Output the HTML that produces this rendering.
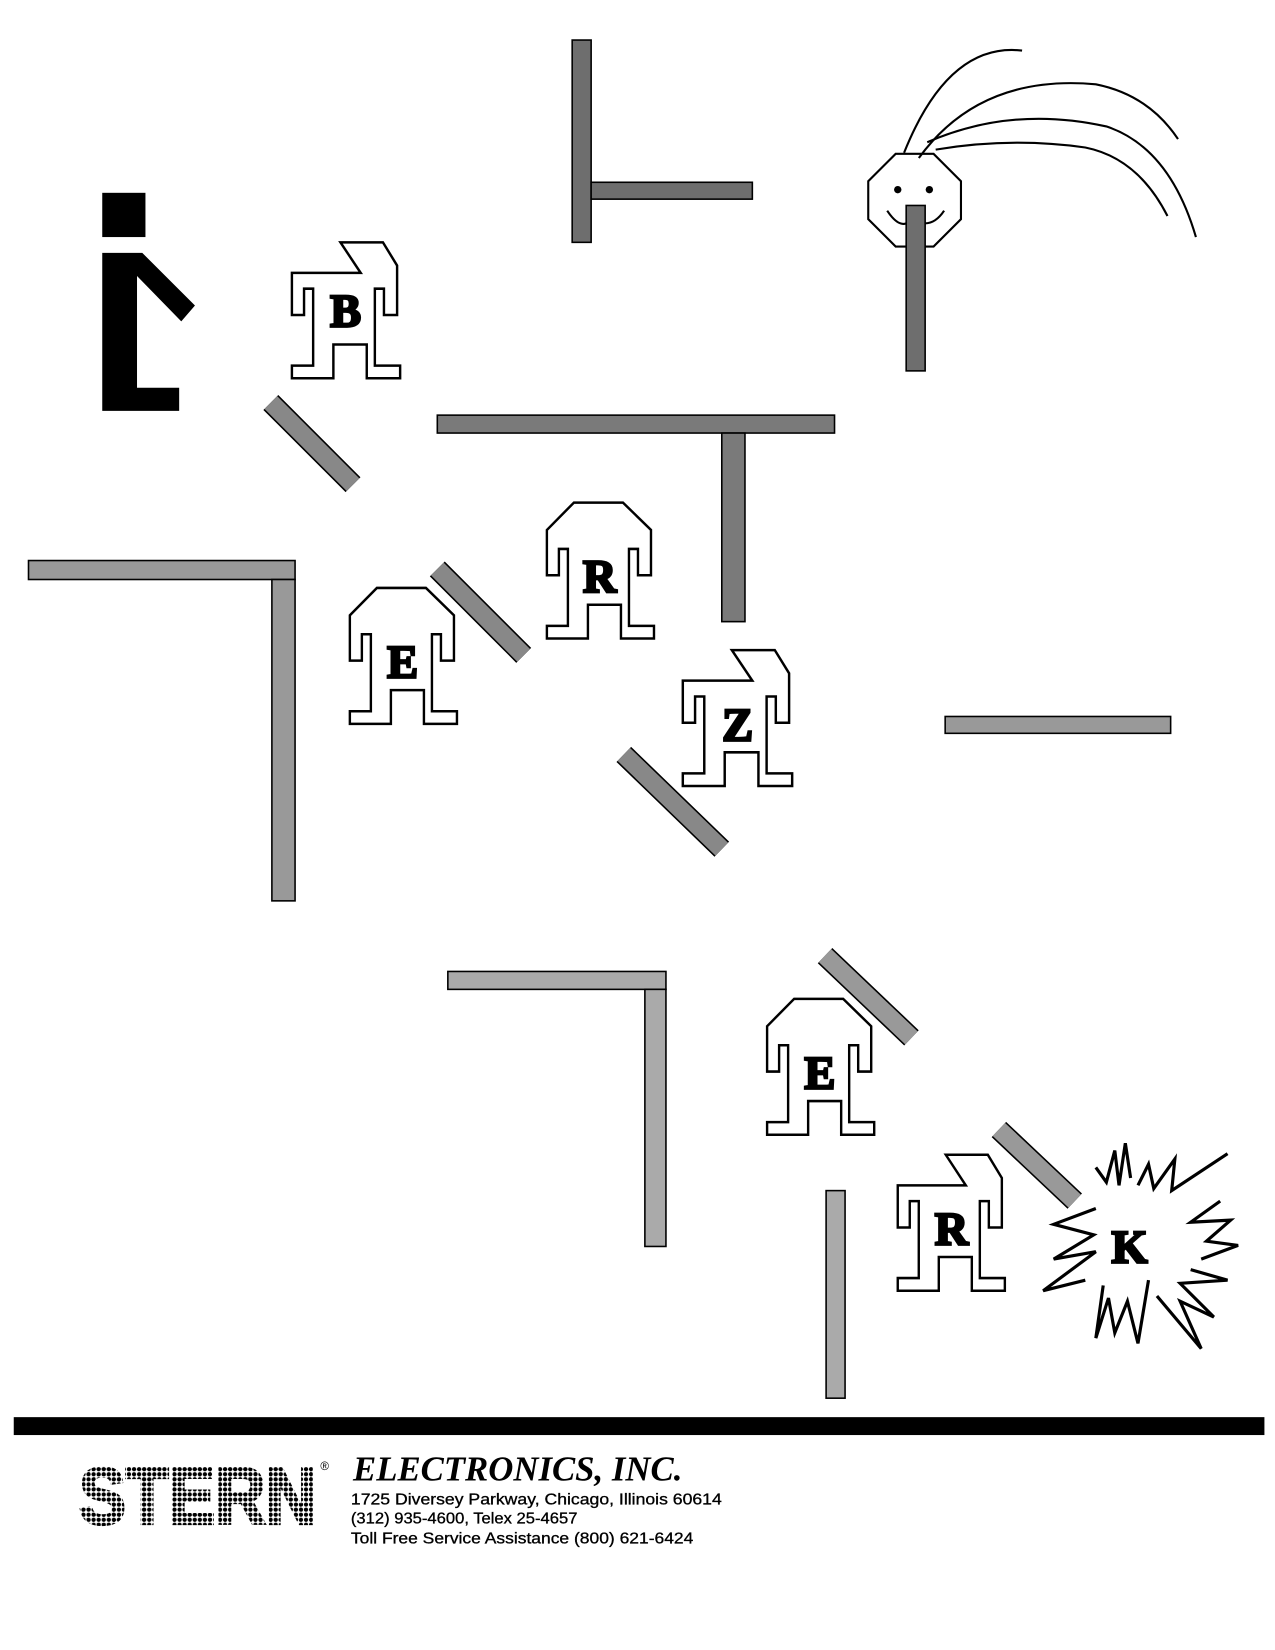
<!DOCTYPE html>
<html><head><meta charset="utf-8"><style>html,body{margin:0;padding:0;background:#fff}svg{display:block}</style></head>
<body>
<svg width="1275" height="1650" viewBox="0 0 1210 1566" xmlns="http://www.w3.org/2000/svg">
<defs>
<pattern id="dots" width="4.8" height="4.8" patternUnits="userSpaceOnUse"><circle cx="2.4" cy="2.4" r="2" fill="#000"/></pattern>
<g id="robot">
<path d="M27 0 H76 L104 26 V69 H91 V44 H82 V117 H107 V129 H74 V97 H41 V129 H0 V117 H21 V44 H12 V69 H0 V26 Z" fill="#fff" stroke="#000" stroke-width="2.4"/>
</g>
<g id="robot2">
<path d="M48 0 H90 L104 22 V69 H91 V44 H82 V117 H107 V129 H74 V97 H41 V129 H0 V117 H21 V44 H12 V69 H0 V29 H68 Z" fill="#fff" stroke="#000" stroke-width="2.4"/>
</g>
</defs>
<g stroke="#000" stroke-width="1.5">
<rect x="543" y="38" width="18" height="192" fill="#6e6e6e"/>
<rect x="561" y="173" width="153" height="16" fill="#6e6e6e"/>
<rect x="415" y="394" width="377" height="17" fill="#7a7a7a"/>
<rect x="685" y="411" width="22" height="179" fill="#7a7a7a"/>
<rect x="27" y="532" width="253" height="18" fill="#999"/>
<rect x="258" y="550" width="22" height="305" fill="#999"/>
<rect x="897" y="680" width="214" height="16" fill="#999"/>
<rect x="425" y="922" width="207" height="17" fill="#aaa"/>
<rect x="612" y="939" width="20" height="244" fill="#aaa"/>
<rect x="784" y="1130" width="18" height="197" fill="#aaa"/>
<line x1="257" y1="382" x2="335" y2="460" stroke="#000" stroke-width="20"/>
<line x1="257" y1="382" x2="335" y2="460" stroke="#888" stroke-width="17"/>
<line x1="415" y1="540" x2="497" y2="622" stroke="#000" stroke-width="20"/>
<line x1="415" y1="540" x2="497" y2="622" stroke="#888" stroke-width="17"/>
<line x1="592" y1="716" x2="685" y2="806" stroke="#000" stroke-width="20"/>
<line x1="592" y1="716" x2="685" y2="806" stroke="#888" stroke-width="17"/>
<line x1="783" y1="907" x2="865" y2="985" stroke="#000" stroke-width="20"/>
<line x1="783" y1="907" x2="865" y2="985" stroke="#999" stroke-width="17"/>
<line x1="948" y1="1072" x2="1020" y2="1140" stroke="#000" stroke-width="20"/>
<line x1="948" y1="1072" x2="1020" y2="1140" stroke="#999" stroke-width="17"/>
</g>
<rect x="97" y="183" width="41" height="42" fill="#000"/>
<path d="M97 240 H135 L185 290 L172 305 L130 262 V368 H170 V390 H97 Z" fill="#000"/>
<polygon points="850,146 886,146 912,172 912,208 886,234 850,234 824,208 824,172" fill="#fff" stroke="#000" stroke-width="2"/>
<rect x="860" y="195" width="18" height="157" fill="#6e6e6e" stroke="#000" stroke-width="1.5"/>
<circle cx="852" cy="180" r="3.5"/><circle cx="882" cy="180" r="3.5"/>
<path d="M842 200 Q852 215 860 212 M878 212 Q888 212 896 200" fill="none" stroke="#000" stroke-width="2"/>
<g fill="none" stroke="#000" stroke-width="2">
<path d="M858 145 Q900 40 970 48"/>
<path d="M872 150 Q930 70 1040 80 Q1090 90 1118 132"/>
<path d="M880 135 Q960 100 1050 120 Q1110 140 1135 225"/>
<path d="M888 142 Q960 130 1030 140 Q1080 150 1108 205"/>
</g>
<use href="#robot2" transform="translate(277,230) scale(0.96,1)"/>
<use href="#robot" transform="translate(519,477) scale(0.95,1)"/>
<use href="#robot" transform="translate(332,558) scale(0.95,1)"/>
<use href="#robot2" transform="translate(648,617) scale(0.97,1)"/>
<use href="#robot" transform="translate(728,948) scale(0.95,1)"/>
<use href="#robot2" transform="translate(852,1096) scale(0.95,1)"/>
<g font-family="Liberation Serif, serif" font-weight="bold" font-size="44" text-anchor="middle" stroke="#000" stroke-width="2.5">
<text x="328" y="310">B</text>
<text x="569" y="562">R</text>
<text x="382" y="643">E</text>
<text x="700" y="703">Z</text>
<text x="778" y="1033">E</text>
<text x="903" y="1181">R</text>
<text x="1072" y="1198">K</text>
</g>
<g fill="none" stroke="#000" stroke-width="3" stroke-linejoin="miter">
<polyline points="1040,1108 1050,1122 1058,1092 1062,1125 1068,1085 1073,1118"/>
<polyline points="1080,1125 1090,1105 1095,1128 1115,1100 1112,1130 1165,1095"/>
<polyline points="1158,1140 1130,1160 1168,1158 1145,1178 1175,1182 1140,1195"/>
<polyline points="1130,1205 1165,1215 1120,1218 1152,1250 1120,1235 1140,1280 1098,1230"/>
<polyline points="1090,1215 1080,1275 1070,1235 1058,1265 1052,1232 1040,1270 1047,1220"/>
<polyline points="1030,1215 990,1225 1040,1188 1000,1195 1038,1172 1000,1162 1040,1147"/>
</g>
<rect x="13" y="1345" width="1187" height="17" fill="#000"/>
<text x="75" y="1446" font-family="Liberation Sans, sans-serif" font-weight="bold" font-size="76" textLength="225" lengthAdjust="spacingAndGlyphs" fill="url(#dots)" stroke="url(#dots)" stroke-width="3">STERN</text>
<text x="304" y="1395" font-family="Liberation Sans, sans-serif" font-size="11">®</text>
<text x="335" y="1405" font-family="Liberation Serif, serif" font-weight="bold" font-style="italic" font-size="33">ELECTRONICS, INC.</text>
<g font-family="Liberation Sans, sans-serif" font-size="14.5" stroke="#000" stroke-width="0.3">
<text x="333" y="1428" textLength="352" lengthAdjust="spacingAndGlyphs">1725 Diversey Parkway, Chicago, Illinois 60614</text>
<text x="333" y="1446" textLength="215" lengthAdjust="spacingAndGlyphs">(312) 935-4600, Telex 25-4657</text>
<text x="333" y="1465" textLength="325" lengthAdjust="spacingAndGlyphs">Toll Free Service Assistance (800) 621-6424</text>
</g>
</svg>
</body></html>
